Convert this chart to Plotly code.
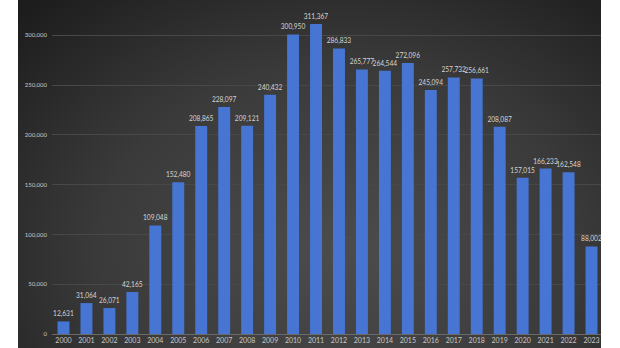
import base64
import plotly.graph_objects as go

years = [str(y) for y in range(2000, 2024)]
values = [12631, 31064, 26071, 42165, 109048, 152480, 208865, 228097, 209121, 240432,
          300950, 311367, 286833, 265777, 264544, 272096, 245094, 257732, 256661, 208087,
          157015, 166233, 162548, 88002]
y_ticks = [0, 50000, 100000, 150000, 200000, 250000, 300000]

W, H = 620, 348
ML, MR, MT, MB = 52, 17, 0, 14
PW = W - ML - MR
PH = H - MT - MB

svg = ('<svg xmlns="http://www.w3.org/2000/svg" width="583" height="348" viewBox="0 0 583 348" preserveAspectRatio="none">'
       '<defs><radialGradient id="g" cx="0.55" cy="0.72" r="0.75" gradientTransform="translate(0.55,0.72) scale(1,1.3) translate(-0.55,-0.72)">'
       '<stop offset="0" stop-color="#4c4c4c"/><stop offset="0.55" stop-color="#3a3a3a"/><stop offset="1" stop-color="#1d1d1d"/>'
       '</radialGradient></defs><rect width="583" height="348" fill="url(#g)"/></svg>')
src = "data:image/svg+xml;base64," + base64.b64encode(svg.encode()).decode()

fig = go.Figure()
fig.add_trace(go.Bar(
    x=years, y=values,
    marker=dict(color="#4675d3", line=dict(width=0)),
    text=[f"{v:,}" for v in values], textposition="outside",
    textfont=dict(family="Lato", size=6.6, color="#d4d4d4"),
    constraintext="none",
    cliponaxis=False,
))

x_left_px, x_right_px = 18, 601
fig.add_layout_image(dict(
    source=src, xref="paper", yref="paper",
    x=(x_left_px - ML) / PW, y=1.0,
    sizex=(x_right_px - x_left_px) / PW, sizey=H / PH,
    sizing="stretch", xanchor="left", yanchor="top", layer="below",
))
# white strip at right edge covering overflow
fig.add_shape(type="rect", xref="paper", yref="paper",
              x0=(x_right_px - ML) / PW, x1=(W - ML) / PW + 0.01,
              y0=-MB / PH, y1=1.0, fillcolor="white", line=dict(width=0), layer="above")

fig.update_layout(
    width=W, height=H,
    margin=dict(l=ML, r=MR, t=MT, b=MB),
    paper_bgcolor="white", plot_bgcolor="rgba(0,0,0,0)",
    bargap=0.48, showlegend=False,
    font=dict(family="Lato", color="#c8c8c8"),
)
fig.update_xaxes(
    type="category", showgrid=False, ticks="",
    showline=True, linecolor="#6a6a6a", linewidth=1,
    tickfont=dict(family="Lato", size=7, color="#c8c8c8"),
)
fig.update_yaxes(
    range=[0, 335500], tickvals=y_ticks, tickformat=",",
    showgrid=True, gridcolor="#484848", gridwidth=1, zeroline=False,
    ticks="", ticklabelstandoff=4,
    tickfont=dict(family="Lato", size=6, color="#c8c8c8"),
)

fig.write_html("out.html")
